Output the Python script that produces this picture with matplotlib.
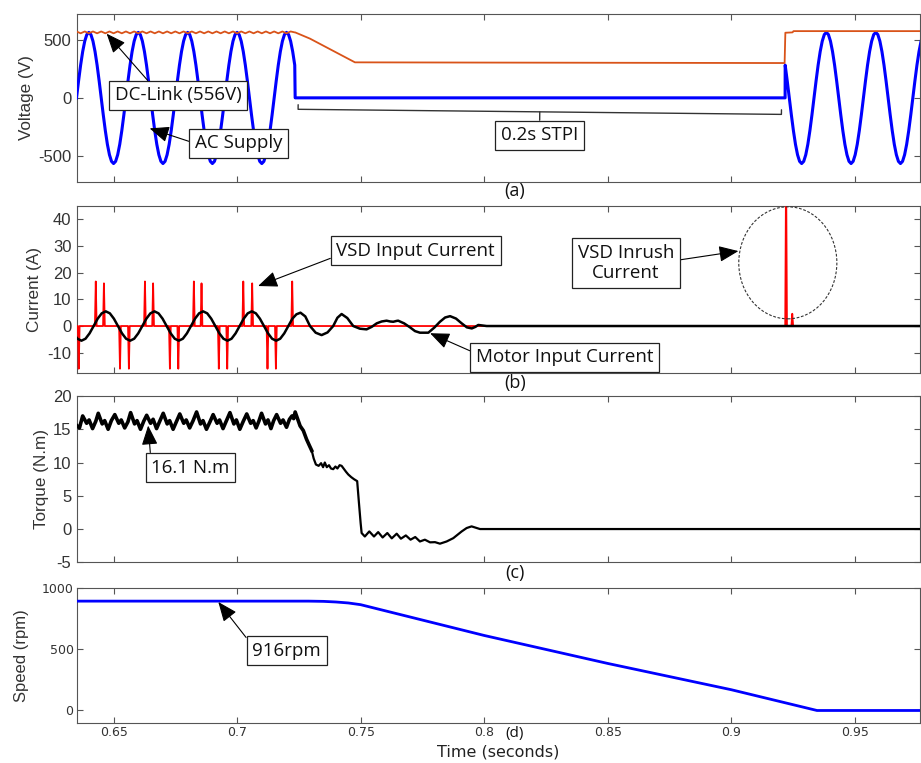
"""Four stacked panels: supply voltage, currents, torque and speed during a 0.2 s interruption."""

import matplotlib

matplotlib.use("Agg")

import matplotlib.pyplot as plt
import numpy as np
from matplotlib.patches import Ellipse

# ---------------------------------------------------------------- data
x_ticks = [0.65, 0.7, 0.75, 0.8, 0.85, 0.9, 0.95]
x_tick_labels = ["0.65", "0.7", "0.75", "0.8", "0.85", "0.9", "0.95"]
x_limits = (0.6352, 0.9764)

# (a) AC supply, sampled every 1/1200 s (15 deg of 50 Hz)
ac_step = 1 / 1200
ac_on1_start = 0.635
ac_on1 = [0, 146, 283, 400, 490, 547, 566, 547, 490, 400, 283, 146,
          0, -147, -284, -402, -492, -549, -568, -549, -492, -402, -284, -147,
          0, 146, 283, 400, 490, 547, 566, 547, 490, 400, 283, 146,
          0, -147, -284, -402, -492, -549, -568, -549, -492, -402, -284, -147,
          0, 146, 283, 400, 490, 547, 566, 547, 490, 400, 283, 146,
          0, -147, -284, -402, -492, -549, -568, -549, -492, -402, -284, -147,
          0, 146, 283, 400, 490, 547, 566, 547, 490, 400, 283, 146,
          0, -147, -284, -402, -492, -549, -568, -549, -492, -402, -284, -147,
          0, 146, 283, 400, 490, 547, 566, 547, 490, 400, 283]
ac_off_t = [0.7235, 0.9218]
ac_off_v = [0, 0]
ac_on2_start = 0.921833
ac_on2 = [283, 146, 0, -147, -284, -402, -492, -549, -568, -549, -492, -402, -284, -147,
          0, 146, 283, 400, 490, 547, 566, 547, 490, 400, 283, 146,
          0, -147, -284, -402, -492, -549, -568, -549, -492, -402, -284, -147,
          0, 146, 283, 400, 490, 547, 566, 547, 490, 400, 283, 146,
          0, -147, -284, -402, -492, -549, -568, -549, -492, -402, -284, -147,
          0, 146, 283, 400, 490, 547, 566]

# (a) DC link, ripple sampled every 1/600 s then the sag and recovery
dc_step = 1 / 600
dc_ripple = [574, 558, 574, 558, 574, 558, 574, 558, 574, 558, 574, 558,
             574, 558, 574, 558, 574, 558, 574, 558, 574, 558, 574, 558,
             574, 558, 574, 558, 574, 558, 574, 558, 574, 558, 574, 558,
             574, 558, 574, 558, 574, 558, 574, 558, 574, 558, 574, 558,
             574, 558, 574, 558, 574, 566]
dc_tail_t = [0.7235, 0.7295, 0.7477, 0.80, 0.86, 0.9216, 0.9219, 0.9248, 0.9252, 0.978]
dc_tail_v = [566, 512, 307, 305, 303, 301, 563, 566, 577, 577]

# (b) motor current, one sample every 1/12 of a 19.7 ms cycle
motor_step = 0.0197 / 12
motor_start = 0.63372
motor_on = [-2.75, -4.76, -5.5, -4.76, -2.75, 0, 2.75, 4.76, 5.5, 4.76, 2.75, 0,
            -2.75, -4.76, -5.5, -4.76, -2.75, 0, 2.75, 4.76, 5.5, 4.76, 2.75, 0,
            -2.75, -4.76, -5.5, -4.76, -2.75, 0, 2.75, 4.76, 5.5, 4.76, 2.75, 0,
            -2.75, -4.76, -5.5, -4.76, -2.75, 0, 2.75, 4.76, 5.5, 4.76, 2.75, 0,
            -2.75, -4.76, -5.5, -4.76, -2.75, 0, 2.75, 4.4, 5.0]
motor_decay_t = [0.7276, 0.7295, 0.7318, 0.7342, 0.7366, 0.7389, 0.7406, 0.7423, 0.7446,
                 0.7470, 0.7497, 0.7524, 0.7545, 0.7565, 0.7585, 0.7605, 0.7620, 0.7632,
                 0.7645, 0.7652, 0.7676, 0.7700, 0.7720, 0.7740, 0.7774, 0.7798, 0.7821,
                 0.7842, 0.7862, 0.7886, 0.7909, 0.7930, 0.7950, 0.7965, 0.7976, 0.8010,
                 0.9780]
motor_decay_v = [3.6, 0.0, -2.5, -3.4, -2.4, 0.0, 3.1, 4.5, 3.0,
                 0.0, -1.0, -1.25, -0.3, 1.0, 1.7, 2.0, 1.7, 1.6,
                 1.9, 2.0, 1.0, -0.5, -1.9, -2.5, -2.5, -0.6, 1.6,
                 3.2, 3.7, 2.8, 1.0, -0.5, -0.9, -0.3, 0.4, 0.0,
                 0.0]

# (b) VSD input current pulses (time, peak)
vsd_pulse_t = [0.6359, 0.6428, 0.6461, 0.6526, 0.6562, 0.6627, 0.6660, 0.6728, 0.6762,
               0.6825, 0.6856, 0.6926, 0.6960, 0.7025, 0.7061, 0.7123, 0.7157, 0.7223]
vsd_pulse_i = [-16.0, 16.7, 16.0, -16.0, -16.0, 16.7, 16.0, -16.0, -16.0,
               16.7, 16.0, -16.0, -16.0, 16.7, 16.0, -16.0, -16.0, 16.7]
inrush_t = [0.9222, 0.9247]
inrush_i = [60.0, 4.6]

# (c) electromagnetic torque
torque_t = [0.6350, 0.6362, 0.6375, 0.6391, 0.6401, 0.6415, 0.6428, 0.6438, 0.6454, 0.6464,
            0.6478, 0.6491, 0.6505, 0.6521, 0.6531, 0.6545, 0.6558, 0.6569, 0.6585, 0.6595,
            0.6609, 0.6622, 0.6634, 0.6650, 0.6660, 0.6674, 0.6688, 0.6701, 0.6717, 0.6727,
            0.6741, 0.6755, 0.6768, 0.6784, 0.6794, 0.6808, 0.6822, 0.6836, 0.6852, 0.6862,
            0.6876, 0.6890, 0.6903, 0.6919, 0.6929, 0.6943, 0.6957, 0.6971, 0.6987, 0.6997,
            0.7011, 0.7025, 0.7039, 0.7055, 0.7065, 0.7077, 0.7088, 0.7099, 0.7115, 0.7125,
            0.7137, 0.7148, 0.7160, 0.7176, 0.7186, 0.7200, 0.7212, 0.7222, 0.7229, 0.7235,
            0.7255, 0.7268, 0.7281, 0.7292, 0.7302, 0.7310, 0.7319, 0.7330, 0.7340, 0.7348,
            0.7355, 0.7363, 0.7372, 0.7380, 0.7389, 0.7398, 0.7406, 0.7415, 0.7423, 0.7433,
            0.7441, 0.7450, 0.7462, 0.7473, 0.7486, 0.7493, 0.7500, 0.7504, 0.7517, 0.7535,
            0.7554, 0.7571, 0.7589, 0.7608, 0.7626, 0.7646, 0.7663, 0.7683, 0.7702, 0.7721,
            0.7740, 0.7760, 0.7781, 0.7801, 0.7821, 0.7848, 0.7875, 0.7909, 0.7929, 0.7949,
            0.7983, 0.9780]
torque_v = [15.6, 15.2, 17.0, 15.9, 16.4, 15.1, 16.2, 17.4, 15.8, 16.3,
            15.0, 16.3, 17.2, 15.9, 16.4, 15.2, 16.1, 17.5, 15.8, 16.3,
            15.0, 16.2, 17.1, 15.9, 16.5, 15.1, 16.3, 17.4, 15.8, 16.3,
            15.0, 16.2, 17.3, 15.9, 16.4, 15.2, 16.3, 17.6, 15.8, 16.3,
            15.0, 16.1, 17.2, 15.9, 16.4, 15.1, 16.3, 17.5, 15.8, 16.4,
            15.0, 16.2, 17.3, 15.9, 16.3, 15.2, 16.2, 17.4, 15.8, 16.4,
            15.1, 16.3, 17.2, 15.9, 16.4, 15.3, 16.5, 17.0, 16.6, 17.6,
            15.5, 14.8, 13.5, 12.6, 11.8, 10.6, 9.7, 9.5, 9.9, 9.3,
            10.0, 9.3, 9.6, 9.1, 9.0, 9.4, 9.1, 9.6, 9.5, 9.0,
            8.6, 8.2, 7.8, 7.5, 7.2, 4.0, 0.9, -0.6, -1.12, -0.36,
            -1.12, -0.46, -1.27, -0.6, -1.4, -0.7, -1.45, -0.96, -1.6, -1.2,
            -1.87, -1.6, -2.0, -1.97, -2.2, -1.87, -1.37, -0.36, 0.15, 0.4,
            0.0, 0.0]

# (d) rotor speed
speed_t = [0.635, 0.7289, 0.735, 0.74, 0.745, 0.75, 0.80, 0.85, 0.90, 0.9347, 0.978]
speed_v = [895, 895, 893, 888, 880, 866, 614, 385, 170, 0, 0]

# ---------------------------------------------------------------- layout
FIG_W, FIG_H = 921, 763
AX_LEFT, AX_RIGHT = 77, 920
PANELS = {  # top, bottom in pixels
    "a": (14, 181.7),
    "b": (206, 372.7),
    "c": (396, 562.3),
    "d": (588.3, 722.7),
}
SPINE = "#555555"
TEXT = "#333333"
NOTE_FONT = ["Open Sans", "DejaVu Sans"]
AXIS_FONT = ["Liberation Sans", "DejaVu Sans"]

plt.rcParams["font.family"] = AXIS_FONT
plt.rcParams["axes.unicode_minus"] = False


def add_panel(fig, key):
    top, bottom = PANELS[key]
    rect = [
        AX_LEFT / FIG_W,
        1 - bottom / FIG_H,
        (AX_RIGHT - AX_LEFT) / FIG_W,
        (bottom - top) / FIG_H,
    ]
    ax = fig.add_axes(rect)
    ax.set_xlim(*x_limits)
    ax.set_xticks(x_ticks)
    for spine in ax.spines.values():
        spine.set_color(SPINE)
        spine.set_linewidth(0.8)
    ax.tick_params(
        direction="in", top=True, right=True, length=4, width=0.8,
        color=SPINE, labelcolor=TEXT, labelsize=12, pad=4,
    )
    return ax


def note(ax, text, xy, xytext, relpos, **kw):
    ax.annotate(
        text, xy=xy, xytext=xytext, ha="center", va="center",
        fontsize=13.5, family=NOTE_FONT, color="#111111", zorder=6,
        bbox=dict(boxstyle="square,pad=0.3", fc="white", ec="#222222", lw=0.9),
        arrowprops=dict(
            arrowstyle="-|>,head_length=0.8,head_width=0.33", mutation_scale=15,
            color="black", lw=0.8, shrinkA=0, shrinkB=0, relpos=relpos,
        ),
        **kw,
    )


def pulse_trace(times, peaks, half_width):
    t, v = [x_limits[0] - 0.001], [0.0]
    for s, p in zip(times, peaks):
        t += [s - half_width, s, s + half_width]
        v += [0.0, p, 0.0]
    return t, v


fig = plt.figure(figsize=(FIG_W / 100, FIG_H / 100), dpi=100)

# ---- (a) voltage
ax_a = add_panel(fig, "a")
ac_t = np.concatenate([
    ac_on1_start + ac_step * np.arange(len(ac_on1)),
    ac_off_t,
    ac_on2_start + ac_step * np.arange(len(ac_on2)),
])
ac_v = np.concatenate([ac_on1, ac_off_v, ac_on2])
dc_t = np.concatenate([ac_on1_start + dc_step * np.arange(len(dc_ripple)), dc_tail_t])
dc_v = np.concatenate([dc_ripple, dc_tail_v])
ax_a.plot(ac_t, ac_v, color="#0000ff", lw=2.2, zorder=3)
ax_a.plot(dc_t, dc_v, color="#d95319", lw=1.3, zorder=4)
ax_a.set_ylim(-725, 725)
ax_a.set_yticks([-500, 0, 500])
ax_a.tick_params(labelbottom=False)
ax_a.set_ylabel("Voltage (V)", fontsize=12.3, color=TEXT)
ax_a.yaxis.set_label_coords(-0.0516, 0.5)

note(ax_a, "DC-Link (556V)", xy=(0.6472, 555), xytext=(0.6762, 21), relpos=(0.3, 1.0))
note(ax_a, "AC Supply", xy=(0.6646, -264), xytext=(0.7006, -393), relpos=(0.0, 0.5))
ax_a.annotate(
    "0.2s STPI", xy=(0.8225, -121), xytext=(0.8224, -324), ha="center", va="center",
    fontsize=13.5, family=NOTE_FONT, color="#111111", zorder=6,
    bbox=dict(boxstyle="square,pad=0.3", fc="white", ec="#222222", lw=0.9),
    arrowprops=dict(arrowstyle="-[,widthB=17.4,lengthB=0.33", mutation_scale=10,
                    color="#333333", lw=1.0, shrinkA=0, shrinkB=0),
)

# ---- (b) current
ax_b = add_panel(fig, "b")
order = np.argsort(vsd_pulse_t + inrush_t)
pulse_t = np.array(vsd_pulse_t + inrush_t)[order]
pulse_i = np.array(vsd_pulse_i + inrush_i)[order]
vsd_t, vsd_i = pulse_trace(pulse_t, pulse_i, 0.00035)
vsd_t.append(x_limits[1] + 0.001)
vsd_i.append(0.0)
motor_t = np.concatenate([motor_start + motor_step * np.arange(len(motor_on)), motor_decay_t])
motor_i = np.concatenate([motor_on, motor_decay_v])
ax_b.plot(vsd_t, vsd_i, color="#ff0000", lw=1.3, zorder=3)
ax_b.plot(motor_t, motor_i, color="black", lw=1.8, zorder=4)
ax_b.set_ylim(-17.5, 45)
ax_b.set_yticks([-10, 0, 10, 20, 30, 40])
ax_b.tick_params(labelbottom=False)
ax_b.set_ylabel("Current (A)", fontsize=12.3, color=TEXT)
ax_b.yaxis.set_label_coords(-0.0421, 0.5)
ax_b.add_patch(Ellipse((0.9229, 23.7), 0.0397, 42.0, fill=False, ec="#333333",
                       lw=0.8, ls=(0, (2.5, 1.5)), zorder=5))

note(ax_b, "VSD Input Current", xy=(0.7085, 15.0), xytext=(0.7723, 28.2), relpos=(0.0, 0.21))
note(ax_b, "VSD Inrush\nCurrent", xy=(0.9029, 28.1), xytext=(0.8573, 23.6), relpos=(1.0, 0.56))
note(ax_b, "Motor Input Current", xy=(0.7781, -2.7), xytext=(0.8326, -11.7), relpos=(0.0, 0.71))

# ---- (c) torque
ax_c = add_panel(fig, "c")
n_ripple = torque_t.index(0.7302)
ax_c.plot(torque_t[:n_ripple + 1], torque_v[:n_ripple + 1], color="black", lw=2.6, zorder=3)
ax_c.plot(torque_t[n_ripple:], torque_v[n_ripple:], color="black", lw=1.6, zorder=3)
ax_c.set_ylim(-5, 20)
ax_c.set_yticks([-5, 0, 5, 10, 15, 20])
ax_c.tick_params(labelbottom=False)
ax_c.set_ylabel("Torque (N.m)", fontsize=12.3, color=TEXT)
ax_c.yaxis.set_label_coords(-0.0338, 0.5)

note(ax_c, "16.1 N.m", xy=(0.664, 15.55), xytext=(0.6811, 9.24), relpos=(0.0, 0.7))

# ---- (d) speed
ax_d = add_panel(fig, "d")
ax_d.plot(speed_t, speed_v, color="#0000ff", lw=2.0, zorder=3)
ax_d.set_ylim(-100, 1000)
ax_d.set_yticks([0, 500, 1000])
ax_d.set_xticklabels(x_tick_labels)
ax_d.tick_params(labelsize=9, pad=2.5)
for lab in ax_d.get_xticklabels() + ax_d.get_yticklabels():
    lab.set_family(["DejaVu Sans"])
ax_d.set_ylabel("Speed (rpm)", fontsize=12, color=TEXT)
ax_d.yaxis.set_label_coords(-0.057, 0.5)
ax_d.set_xlabel("Time (seconds)", fontsize=11.5, color="#222222", family=["DejaVu Sans"], labelpad=4)

note(ax_d, "916rpm", xy=(0.6924, 888), xytext=(0.72, 490), relpos=(0.0, 0.8))

# ---- panel captions
for tag, y_px, size in [("(a)", 191, 13), ("(b)", 383, 13), ("(c)", 573, 13), ("(d)", 734, 11)]:
    fig.text(515 / FIG_W, 1 - y_px / FIG_H, tag, ha="center", va="center",
             fontsize=size, family=NOTE_FONT, color="#111111")

fig.savefig("out.png", dpi=100)
plt.close(fig)
